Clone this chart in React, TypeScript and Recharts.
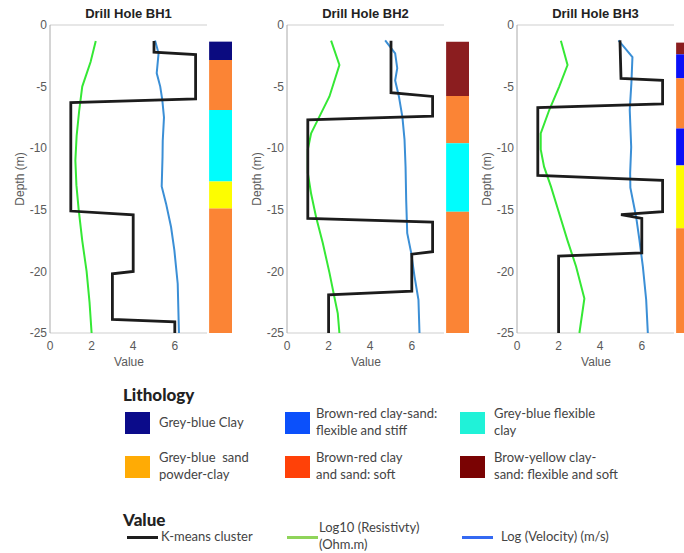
import React from "react";
import {
  ScatterChart,
  Scatter,
  XAxis,
  YAxis,
  ReferenceArea,
  ReferenceLine,
} from "recharts";

// [value, depth] pairs, depth in metres below surface (negative)
const bh1Kmeans = [
  [5.0, -1.3], [5.0, -2.2], [7.0, -2.4], [7.0, -6.0], [1.0, -6.3], [1.0, -15.1],
  [4.0, -15.4], [4.0, -20.0], [3.0, -20.2], [3.0, -23.9], [6.0, -24.1], [6.0, -25],
];
const bh1Resistivity = [
  [2.2, -1.3], [1.95, -3], [1.55, -5], [1.4, -7], [1.28, -9], [1.22, -11],
  [1.27, -13], [1.38, -15], [1.55, -17.5], [1.76, -20], [1.9, -22.5], [2.0, -25],
];
const bh1Velocity = [
  [5.05, -1.25], [5.22, -2.3], [5.13, -3.9], [5.3, -5.0], [5.4, -6.1], [5.48, -7.5],
  [5.42, -9.4], [5.41, -10.7], [5.37, -13.1], [5.58, -14.5], [5.82, -16.4],
  [5.98, -18.3], [6.14, -21], [6.2, -25],
];
const bh1Layers = [
  { top: -1.35, bottom: -2.84, kind: "navy" },
  { top: -2.84, bottom: -6.9, kind: "orange" },
  { top: -6.9, bottom: -12.7, kind: "cyan" },
  { top: -12.7, bottom: -14.9, kind: "yellow" },
  { top: -14.9, bottom: -25, kind: "orange" },
];

const bh2Kmeans = [
  [5.0, -1.27], [5.0, -5.5], [7.0, -5.8], [7.0, -7.4], [1.0, -7.7], [1.0, -15.7],
  [7.0, -16.0], [7.0, -18.4], [6.0, -18.6], [6.0, -21.6], [2.0, -21.9], [2.0, -25],
];
const bh2Resistivity = [
  [2.12, -1.27], [2.52, -3.25], [2.04, -5.8], [1.48, -7.7], [1.16, -8.8], [1.0, -10.1],
  [1.0, -12.0], [1.16, -13.7], [1.4, -15.6], [1.72, -17.7], [2.04, -20.1],
  [2.28, -22.1], [2.44, -23.4], [2.52, -25],
];
const bh2Velocity = [
  [4.72, -1.25], [5.2, -2.3], [5.3, -3.5], [5.2, -4.5], [5.38, -5.8], [5.55, -7.5],
  [5.65, -9.3], [5.7, -11.5], [5.73, -14.2], [5.78, -16.9], [5.97, -18.5],
  [6.13, -20.4], [6.32, -22.3], [6.37, -25],
];
const bh2Layers = [
  { top: -1.35, bottom: -5.76, kind: "darkred" },
  { top: -5.76, bottom: -9.6, kind: "orange" },
  { top: -9.6, bottom: -15.15, kind: "cyan" },
  { top: -15.15, bottom: -25, kind: "orange" },
];

const bh3Kmeans = [
  [4.95, -1.25], [5.0, -4.33], [7.0, -4.5], [7.0, -6.4], [1.0, -6.7], [1.0, -12.2],
  [7.0, -12.6], [7.0, -15.15], [5.0, -15.4], [6.0, -15.7], [6.0, -18.5],
  [2.0, -18.75], [2.0, -25],
];
const bh3Resistivity = [
  [2.11, -1.27], [2.43, -3.25], [2.03, -5.0], [1.55, -6.9], [1.14, -8.8], [1.14, -10.1],
  [1.3, -11.5], [1.63, -13.1], [2.03, -15.3], [2.43, -17.5], [2.84, -19.6],
  [3.24, -22.2], [3.0, -25],
];
const bh3Velocity = [
  [4.88, -1.25], [5.55, -2.6], [5.5, -4.7], [5.42, -6.9], [5.49, -9.9], [5.44, -12.0],
  [5.45, -13.2], [5.73, -15.6], [5.89, -17.5], [6.05, -19.6], [6.21, -22.3], [6.29, -25],
];
const bh3Layers = [
  { top: -1.43, bottom: -2.38, kind: "darkred" },
  { top: -2.38, bottom: -4.33, kind: "blue" },
  { top: -4.33, bottom: -8.4, kind: "orange" },
  { top: -8.4, bottom: -11.4, kind: "blue" },
  { top: -11.4, bottom: -16.5, kind: "yellow" },
  { top: -16.5, bottom: -25, kind: "orange" },
];

const holes = [
  { name: "Drill Hole BH1", kmeans: bh1Kmeans, resistivity: bh1Resistivity, velocity: bh1Velocity, layers: bh1Layers },
  { name: "Drill Hole BH2", kmeans: bh2Kmeans, resistivity: bh2Resistivity, velocity: bh2Velocity, layers: bh2Layers },
  { name: "Drill Hole BH3", kmeans: bh3Kmeans, resistivity: bh3Resistivity, velocity: bh3Velocity, layers: bh3Layers },
];

const depthTicks = [0, -5, -10, -15, -20, -25];
const valueTicks = [0, 2, 4, 6];

const lithologyNames = [
  ["Grey-blue Clay"],
  ["Brown-red clay-sand:", "flexible and stiff"],
  ["Grey-blue flexible", "clay"],
  ["Grey-blue  sand", "powder-clay"],
  ["Brown-red clay", "and sand: soft"],
  ["Brow-yellow clay-", "sand: flexible and soft"],
];
const seriesNames = [["K-means cluster"], ["Log10 (Resistivty)", "(Ohm.m)"], ["Log (Velocity) (m/s)"]];

const LAYER_FILL: Record<string, string> = {
  navy: "#0b0b80",
  orange: "#fb8435",
  cyan: "#00fdfd",
  yellow: "#fdfd00",
  darkred: "#8b1d1f",
  blue: "#0a10f8",
};
const LITH_SWATCH = ["#0b0b8a", "#0b50fb", "#20f2d8", "#ffab05", "#ff4108", "#7a0303"];
const SERIES_SWATCH = ["#1e1e1e", "#8fd45a", "#3469f2"];

const KMEANS_COLOR = "#1c1c1c";
const RES_COLOR = "#35e835";
const VEL_COLOR = "#3b8fd6";

const X_MAX = 8.75;
const BOX_RIGHT = 7.55;
const LITH_LEFT = 7.65;
const PANEL_LEFT = [0, 237, 467];
const FONT = "'Liberation Sans', Arial, sans-serif";
const AXIS_TEXT = "#5a5a5a";

const toPoints = (rows: number[][]) => rows.map(([value, depth]) => ({ value, depth }));
const noDot = () => <g />;

function DepthLabel(props: any) {
  const { x, y, height } = props.viewBox;
  const cx = x + 20;
  const cy = y + height / 2;
  return (
    <text x={cx} y={cy} transform={`rotate(-90 ${cx} ${cy})`} textAnchor="middle"
      dominantBaseline="central" fontSize={12} fill={AXIS_TEXT} fontFamily={FONT}>
      Depth (m)
    </text>
  );
}

function ValueLabel(props: any) {
  const { x, y } = props.viewBox;
  return (
    <text x={x + 79} y={y + 29} textAnchor="middle" dominantBaseline="central"
      fontSize={12} fill={AXIS_TEXT} fontFamily={FONT}>
      Value
    </text>
  );
}

function HolePanel({ hole, left }: { hole: (typeof holes)[number]; left: number }) {
  return (
    <div style={{ position: "absolute", left, top: 0 }}>
      <div style={{
        position: "absolute", left: 50, width: 157, top: 6, textAlign: "center",
        fontFamily: FONT, fontWeight: "bold", fontSize: 13, color: "#222",
      }}>
        {hole.name}
      </div>
      <ScatterChart width={240} height={375} margin={{ top: 25, right: 8, bottom: 0, left: 0 }}>
        <XAxis type="number" dataKey="value" domain={[0, X_MAX]} ticks={valueTicks}
          axisLine={false} tickLine={false} tickSize={0} tickMargin={8} height={42}
          tick={{ fontSize: 12, fill: AXIS_TEXT, fontFamily: FONT }} label={<ValueLabel />} />
        <YAxis type="number" dataKey="depth" domain={[-25, 0]} ticks={depthTicks}
          axisLine={{ stroke: "#aaa" }} tickLine={false} tickSize={0} tickMargin={3} width={50}
          tick={{ fontSize: 12, fill: AXIS_TEXT, fontFamily: FONT }} label={<DepthLabel />} />
        <ReferenceLine segment={[{ x: 0, y: 0 }, { x: BOX_RIGHT, y: 0 }]} stroke="#cfcfcf" />
        <ReferenceLine segment={[{ x: 0, y: -25 }, { x: BOX_RIGHT, y: -25 }]} stroke="#cfcfcf" />
        {hole.layers.map((l, i) => (
          <ReferenceArea key={i} x1={LITH_LEFT} x2={X_MAX} y1={l.bottom} y2={l.top}
            fill={LAYER_FILL[l.kind]} fillOpacity={1} stroke="none" />
        ))}
        <Scatter data={toPoints(hole.resistivity)} line={{ stroke: RES_COLOR, strokeWidth: 2 }}
          shape={noDot} isAnimationActive={false} />
        <Scatter data={toPoints(hole.velocity)} line={{ stroke: VEL_COLOR, strokeWidth: 2 }}
          shape={noDot} isAnimationActive={false} />
        <Scatter data={toPoints(hole.kmeans)} line={{ stroke: KMEANS_COLOR, strokeWidth: 2.8 }}
          shape={noDot} isAnimationActive={false} />
      </ScatterChart>
    </div>
  );
}

const legendText: React.CSSProperties = {
  position: "absolute", fontFamily: "Lato, 'Open Sans', sans-serif", fontSize: 13,
  lineHeight: "17px", color: "#444", whiteSpace: "pre",
};
const legendHead: React.CSSProperties = {
  position: "absolute", left: 123, fontFamily: "Lato, sans-serif", fontWeight: 900,
  fontSize: 17, color: "#222",
};

// legend grid: three columns, two rows of lithology swatches
const colX = [125, 285, 460];
const colTextX = [159, 316, 494];
const rowY = [423, 467];

export default function App() {
  return (
    <div style={{ position: "absolute", left: 0, top: 0, width: 684, height: 553, overflow: "hidden", background: "#fff" }}>
      {holes.map((h, i) => (
        <HolePanel key={h.name} hole={h} left={PANEL_LEFT[i]} />
      ))}

      <div style={{ ...legendHead, top: 384 }}>Lithology</div>
      {lithologyNames.map((lines, i) => {
        const col = i % 3;
        const cy = rowY[Math.floor(i / 3)];
        return (
          <React.Fragment key={i}>
            <div style={{
              position: "absolute", left: colX[col], top: cy - 11, width: 25, height: 22,
              background: LITH_SWATCH[i],
            }} />
            <div style={{ ...legendText, left: colTextX[col], top: cy - (lines.length * 17) / 2 - 1 }}>
              {lines.join("\n")}
            </div>
          </React.Fragment>
        );
      })}

      <div style={{ ...legendHead, top: 509 }}>Value</div>
      {seriesNames.map((lines, i) => (
        <React.Fragment key={i}>
          <div style={{
            position: "absolute", left: colX[i] + 2, top: 536, width: 31, height: 3,
            background: SERIES_SWATCH[i],
          }} />
          <div style={{
            ...legendText, left: [161, 319, 501][i], top: 537 - (lines.length * 17) / 2 - 1,
          }}>
            {lines.join("\n")}
          </div>
        </React.Fragment>
      ))}
    </div>
  );
}
